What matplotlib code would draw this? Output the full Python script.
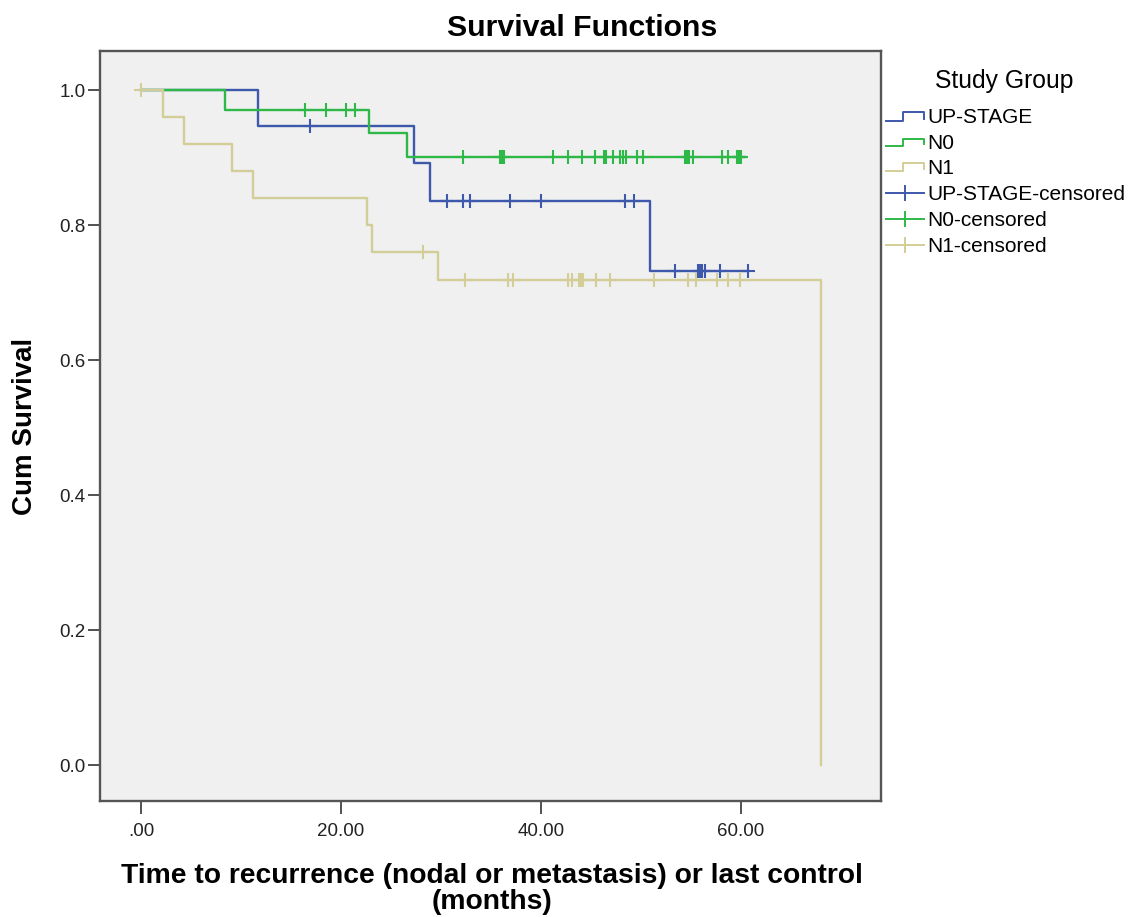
import numpy as np
import matplotlib
matplotlib.use("Agg")
import matplotlib.pyplot as plt
from matplotlib.lines import Line2D

plt.rcParams["font.family"] = ["Liberation Sans", "DejaVu Sans"]

W, H = 1128, 917

# Kaplan-Meier step curves (time in months, cum survival)
up_times = [0.0, 11.7, 27.3, 28.9, 50.9, 60.7]
up_surv = [1.0, 0.947, 0.892, 0.836, 0.732, 0.732]
up_cens = [16.9, 30.6, 32.2, 32.9, 36.9, 40.0, 48.4, 49.3,
           53.4, 55.7, 55.9, 56.1, 56.4, 57.9, 60.7]

n0_times = [0.0, 8.4, 22.8, 26.6, 60.3]
n0_surv = [1.0, 0.970, 0.936, 0.901, 0.901]
n0_cens = [16.4, 18.5, 20.5, 21.4, 32.2, 35.9, 36.1, 36.3, 41.2, 42.7,
           44.1, 45.4, 46.3, 46.5, 47.2, 47.9, 48.2, 48.5, 49.6, 50.2,
           54.4, 54.6, 54.8, 55.2, 58.1, 58.7, 59.6, 59.8, 59.9, 60.0]

n1_times = [0.0, 2.2, 4.3, 9.1, 11.2, 22.6, 23.1, 29.7, 68.0]
n1_surv = [1.0, 0.96, 0.92, 0.88, 0.84, 0.80, 0.76, 0.718, 0.0]
n1_cens = [0.0, 28.2, 32.4, 36.7, 37.2, 42.7, 43.1, 43.8, 44.0, 44.2,
           45.5, 46.9, 51.3, 54.7, 55.5, 57.6, 58.7, 59.9]

groups = ["UP-STAGE", "N0", "N1"]
colors = ["#3e58ac", "#2eb848", "#d3ce97"]
x_ticks = [0, 20, 40, 60]
x_ticklabels = [".00", "20.00", "40.00", "60.00"]
y_ticks = [0.0, 0.2, 0.4, 0.6, 0.8, 1.0]


def level_at(times, surv, t):
    idx = np.searchsorted(times, t, side="right") - 1
    return np.asarray(surv)[idx]


fig = plt.figure(figsize=(W / 100, H / 100), dpi=100)
ax = fig.add_axes([100 / W, 1 - 801 / H, 781 / W, 750 / H])
ax.set_facecolor("#f0f0f0")

curves = [(up_times, up_surv, up_cens), (n0_times, n0_surv, n0_cens),
          (n1_times, n1_surv, n1_cens)]
for z, ((tt, ss, cc), col) in enumerate(zip(curves, colors)):
    ax.step(tt, ss, where="post", color=col, lw=1.7, zorder=2 + z)
    ax.plot(cc, level_at(tt, ss, cc), ls="none", marker="+", ms=9.5,
            mew=1.5, color=col, zorder=2 + z)

ax.set_xlim(-4.1, 74.0)
ax.set_ylim(-0.0533, 1.0578)
ax.set_xticks(x_ticks)
ax.set_xticklabels(x_ticklabels)
ax.set_yticks(y_ticks)
ax.set_yticklabels([f"{v:.1f}" for v in y_ticks])
ax.tick_params(axis="both", direction="out", length=9, width=1.2,
               color="#333333", labelsize=13.5, labelcolor="#222222")
ax.tick_params(axis="y", pad=1.5)
ax.tick_params(axis="x", pad=7)
for sp in ax.spines.values():
    sp.set_color("#555555")
    sp.set_linewidth(1.7)

fig.text(582 / W, 1 - 28 / H, "Survival Functions", ha="center", va="center",
         fontsize=21.8, fontweight="bold")
fig.text(25 / W, 1 - 426 / H, "Cum Survival", ha="center", va="center",
         rotation=90, fontsize=20, fontweight="bold")
fig.text(492 / W, 1 - 889 / H,
         "Time to recurrence (nodal or metastasis) or last control\n(months)",
         ha="center", va="center", fontsize=20.3, fontweight="bold",
         linespacing=1.0)

# legend drawn by hand to get SPSS-style step handles
def px(x, y):
    return x / W, 1 - y / H


fig.text(*px(1004, 81), "Study Group", ha="center", va="center", fontsize=17.8)
step_rows = [(121, 112), (146, 139), (171, 163)]
for (lo, hi), col, name in zip(step_rows, colors, groups):
    xs = [886, 903, 903, 924, 924]
    ys = [lo, lo, hi, hi, lo - 2]
    fx, fy = zip(*[px(a, b) for a, b in zip(xs, ys)])
    fig.add_artist(Line2D(fx, fy, color=col, lw=1.4, transform=fig.transFigure))
    fig.text(*px(927, (lo + hi) / 2 + 1), name, ha="left", va="center",
             fontsize=15)

cens_rows = [193, 219, 245]
for y, col, name in zip(cens_rows, colors, groups):
    fx, fy = zip(px(886, y), px(924, y))
    fig.add_artist(Line2D(fx, fy, color=col, lw=1.4, transform=fig.transFigure))
    fx, fy = zip(px(905, y - 7), px(905, y + 7))
    fig.add_artist(Line2D(fx, fy, color=col, lw=1.4, transform=fig.transFigure))
    fig.text(*px(927, y + 1), name + "-censored", ha="left", va="center",
             fontsize=15)

fig.savefig("out.png", dpi=100)
